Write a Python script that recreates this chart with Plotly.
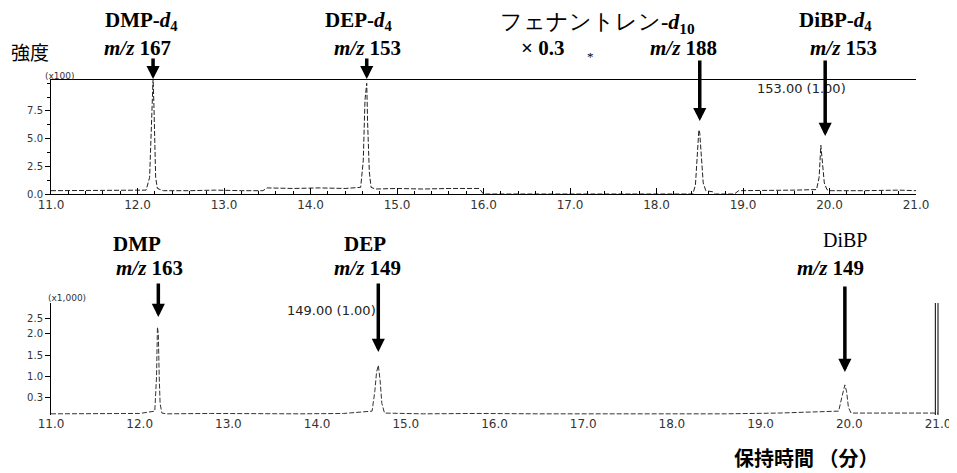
import plotly.graph_objects as go

# ---------------- data ----------------
top_time = [11.0, 11.3, 11.6, 11.9, 12.1, 12.14, 12.16, 12.17, 12.18, 12.19, 12.20, 12.21, 12.23, 12.3,
            12.6, 12.9, 13.2, 13.45, 13.5, 13.8, 14.1, 14.4, 14.58, 14.61, 14.63, 14.65, 14.66, 14.68,
            14.70, 14.75, 15.0, 15.3, 15.6, 15.95, 16.0, 17.0, 18.0, 18.42, 18.45, 18.47, 18.49, 18.5,
            18.52, 18.54, 18.57, 18.65, 18.68, 18.9, 18.95, 19.3, 19.6, 19.85, 19.88, 19.9, 19.92, 19.94,
            19.97, 20.0, 20.4, 20.8, 21.0]
top_intensity = [0.3, 0.3, 0.35, 0.3, 0.35, 1.5, 6.0, 9.5, 10.4, 8.0, 4.0, 1.5, 0.5, 0.3,
                 0.3, 0.35, 0.3, 0.3, 0.55, 0.5, 0.55, 0.5, 0.6, 3.0, 8.5, 10.0, 6.5, 2.0,
                 0.6, 0.45, 0.5, 0.45, 0.5, 0.5, 0.0, 0.0, 0.0, 0.0, 0.8, 3.5, 5.8, 5.5,
                 3.0, 1.0, 0.3, 0.2, 0.0, 0.0, 0.3, 0.3, 0.35, 0.4, 1.5, 4.4, 3.0, 1.0,
                 0.4, 0.3, 0.3, 0.35, 0.3]

bot_time = [11.0, 11.5, 12.0, 12.17, 12.19, 12.20, 12.21, 12.22, 12.23, 12.25, 12.3, 12.8, 13.3, 13.8,
            14.3, 14.62, 14.65, 14.67, 14.69, 14.71, 14.73, 14.76, 15.2, 15.8, 16.5, 17.2, 17.9, 18.6,
            19.2, 19.88, 19.92, 19.95, 19.97, 19.99, 20.02, 20.4, 20.8, 21.0]
bot_intensity = [0.03, 0.03, 0.04, 0.1, 1.0, 2.28, 2.1, 1.0, 0.3, 0.05, 0.03, 0.04, 0.03, 0.03,
                 0.04, 0.1, 0.6, 1.1, 1.29, 0.9, 0.3, 0.05, 0.03, 0.04, 0.03, 0.03, 0.04, 0.03,
                 0.05, 0.1, 0.5, 0.78, 0.6, 0.2, 0.05, 0.05, 0.04, 0.05]

x_tick_vals = [11, 12, 13, 14, 15, 16, 17, 18, 19, 20, 21]
x_tick_text = ["11.0", "12.0", "13.0", "14.0", "15.0", "16.0", "17.0", "18.0", "19.0", "20.0", "21.0"]
y1_tick_vals = [0, 2.5, 5.0, 7.5]
y1_tick_text = ["0.0", "2.5", "5.0", "7.5"]
y2_tick_vals = [0.45, 1.0, 1.53, 2.12, 2.5]
y2_tick_text = ["0.3", "1.0", "1.5", "2.0", "2.5"]

top_peak_times = [12.18, 14.65, 18.50, 19.95]
bot_peak_times = [12.21, 14.69, 19.95]

# page has an 8px body margin: figure is placed at (8, 8)
OFF = 8
W, H = 957 - OFF, 473 - OFF


def py(p):
    return 1 - (p - OFF) / H


def px(p):
    return (p - OFF) / W


fig = go.Figure()
fig.add_trace(go.Scatter(x=top_time, y=top_intensity, mode="lines", xaxis="x", yaxis="y",
                         line=dict(color="#222", width=1, dash="5px,2px"), showlegend=False))
fig.add_trace(go.Scatter(x=bot_time, y=bot_intensity, mode="lines", xaxis="x2", yaxis="y2",
                         line=dict(color="#333", width=1, dash="5px,2px"), showlegend=False))

tickfont = dict(family="DejaVu Sans", size=12, color="#333")

fig.update_layout(
    width=W, height=H, autosize=False,
    margin=dict(l=0, r=0, t=0, b=0),
    paper_bgcolor="white", plot_bgcolor="white",
    xaxis=dict(domain=[px(51), px(916)], range=[11, 21], anchor="y", automargin=False,
               tickvals=x_tick_vals, ticktext=x_tick_text, tickfont=tickfont,
               showline=True, linecolor="black", linewidth=1, mirror=True,
               ticks="inside", ticklen=6, tickcolor="black",
               minor=dict(dtick=0.2, ticks="inside", ticklen=3, tickcolor="black"),
               showgrid=False, zeroline=False),
    yaxis=dict(domain=[py(194), py(80)], range=[0, 10.3], anchor="x", automargin=False,
               tickvals=y1_tick_vals, ticktext=y1_tick_text,
               tickfont=dict(family="DejaVu Sans", size=10, color="#333"),
               showline=True, linecolor="black", linewidth=1,
               ticks="outside", ticklen=5, tickcolor="black",
               minor=dict(dtick=1.25, ticks="outside", ticklen=3, tickcolor="black"),
               showgrid=False, zeroline=False),
    xaxis2=dict(domain=[px(51), px(51 + 10.05 * 88.7)], range=[11, 21.05], anchor="y2",
                automargin=False,
                tickvals=x_tick_vals, ticktext=x_tick_text, tickfont=tickfont,
                showline=False, ticks="", showgrid=False, zeroline=False),
    yaxis2=dict(domain=[py(415), py(303)], range=[0, 2.9], anchor="x2", automargin=False,
                tickvals=y2_tick_vals, ticktext=y2_tick_text,
                tickfont=dict(family="DejaVu Sans", size=10, color="#333"),
                showline=True, linecolor="black", linewidth=1,
                ticks="outside", ticklen=5, tickcolor="black",
                showgrid=False, zeroline=False),
)

# double vertical line at right end of lower chromatogram
for xv in [20.97, 21.0]:
    fig.add_shape(type="line", xref="x2", yref="y2", x0=xv, x1=xv, y0=0, y1=2.9,
                  line=dict(color="black", width=1))

ann = []
serif = "Liberation Serif"


def label(text, cx, cy, size=21, family=serif, color="black"):
    ann.append(dict(text=text, xref="paper", yref="paper", x=px(cx), y=py(cy),
                    xanchor="center", yanchor="middle", showarrow=False, borderpad=0,
                    font=dict(family=family, size=size, color=color)))


# top labels
label("<b>DMP-<i>d</i><sub>4</sub></b>", 141, 21)
label("<b><i>m/z</i> 167</b>", 137, 48)
label("<b>DEP-<i>d</i><sub>4</sub></b>", 359, 21)
label("<b><i>m/z</i> 153</b>", 367, 48)
label("フェナントレン<b>-<i>d</i><sub>10</sub></b>", 597, 23, size=22)
label("<b>× 0.3</b>", 542, 48)
label("*", 590, 57, size=13)
label("<b><i>m/z</i> 188</b>", 683, 48)
label("<b>DiBP-<i>d</i><sub>4</sub></b>", 835, 21)
label("<b><i>m/z</i> 153</b>", 843, 48)
label("強度", 30, 51, size=19, family="Noto Sans CJK JP")
label("(x100)", 60, 76, size=9, family="DejaVu Sans", color="#333")
label("153.00 (1.00)", 801, 88, size=13, family="DejaVu Sans", color="#222")

# bottom labels
label("<b>DMP</b>", 137, 244)
label("<b><i>m/z</i> 163</b>", 149, 268)
label("<b>DEP</b>", 365, 244)
label("<b><i>m/z</i> 149</b>", 367, 268)
label("DiBP", 845, 240, size=20)
label("<b><i>m/z</i> 149</b>", 830, 268)
label("(x1,000)", 67, 298, size=9, family="DejaVu Sans", color="#333")
label("149.00 (1.00)", 331, 310, size=13, family="DejaVu Sans", color="#222")
label("<b>保持時間 （分）</b>", 806, 457, size=20, family="Noto Sans CJK JP")

# arrows
top_tips = [79, 79, 121, 136]
top_tails = [57, 57, 59, 59]
for t, tip, tail in zip(top_peak_times, top_tips, top_tails):
    ann.append(dict(text="", xref="x", yref="paper", x=t, y=py(tip), ax=0, ay=-(tip - tail),
                    showarrow=True, arrowhead=2, arrowsize=0.75, arrowwidth=3.5,
                    arrowcolor="black", standoff=0))
bot_tips = [317, 352, 372]
bot_tails = [282, 282, 285]
for t, tip, tail in zip(bot_peak_times, bot_tips, bot_tails):
    ann.append(dict(text="", xref="x2", yref="paper", x=t, y=py(tip), ax=0, ay=-(tip - tail),
                    showarrow=True, arrowhead=2, arrowsize=0.75, arrowwidth=3.5,
                    arrowcolor="black", standoff=0))

fig.update_layout(annotations=ann)
fig.write_html("out.html")
